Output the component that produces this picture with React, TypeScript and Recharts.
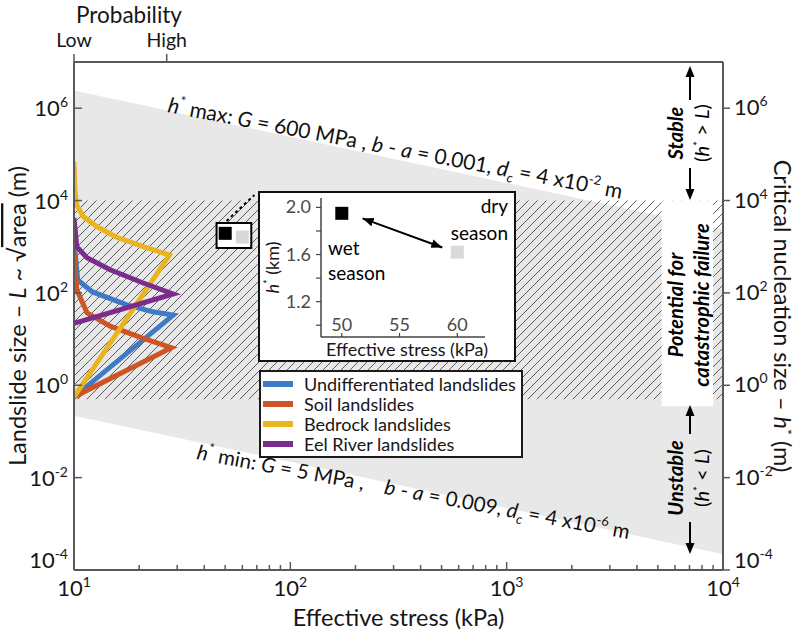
import React from 'react';
import {
  ComposedChart,
  Line,
  Area,
  Scatter,
  XAxis,
  YAxis,
  ReferenceArea,
  ReferenceLine,
  Legend,
} from 'recharts';

const FONT = "Lato, 'Open Sans', 'DejaVu Sans', sans-serif";
const AXIS_COLOR = '#595959';
const BAND_COLOR = '#e8e8e8';
const TEXT_COLOR = '#161616';

// ---------- axes ----------
const stressTicks = [
  10, 20, 30, 40, 50, 60, 70, 80, 90,
  100, 200, 300, 400, 500, 600, 700, 800, 900,
  1000, 2000, 3000, 4000, 5000, 6000, 7000, 8000, 9000, 10000,
];
const stressMajor = [10, 100, 1000, 10000];
const topDecadeTicks = [100, 1000];
const sizeTicks = [1e-4, 1e-2, 1, 1e2, 1e4, 1e6];
const probTicks = [0, 1];
const probLabels = ['Low', 'High'];

// ---------- regions ----------
const hStarBand = [
  { s: 10, range: [0.22, 2.4e6] },
  { s: 10000, range: [2.2e-4, 2400] },
];
const hatchZone = [
  { s: 10, range: [0.5, 1e4] },
  { s: 10000, range: [0.5, 1e4] },
];
const labelPanel = [
  { s: 5200, range: [0.35, 1e4] },
  { s: 9000, range: [0.35, 1e4] },
];

// ---------- probability curves (p: Low=0, High=1 ; h: landslide size m) ----------
const undifferentiated = [
  { p: 0, h: 1400 }, { p: 0.04, h: 190 }, { p: 0.2, h: 105 }, { p: 0.57, h: 55 },
  { p: 0.85, h: 39 }, { p: 1.07, h: 33 }, { p: 0, h: 0.56 },
];
const soil = [
  { p: 0, h: 800 }, { p: 0.03, h: 117 }, { p: 0.14, h: 37 }, { p: 0.39, h: 19 },
  { p: 0.74, h: 10.5 }, { p: 1.05, h: 6.5 }, { p: 0, h: 0.56 },
];
const bedrock = [
  { p: 0, h: 69000 }, { p: 0.01, h: 17000 }, { p: 0.03, h: 7900 }, { p: 0.1, h: 4500 },
  { p: 0.25, h: 2700 }, { p: 0.46, h: 1600 }, { p: 0.75, h: 1000 }, { p: 1.03, h: 660 },
  { p: 0, h: 0.56 },
];
const eelRiver = [
  { p: 0, h: 4200 }, { p: 0.03, h: 1000 }, { p: 0.14, h: 575 }, { p: 0.39, h: 316 },
  { p: 0.74, h: 166 }, { p: 1.07, h: 95 }, { p: 0, h: 22 },
];
const seriesNames = [
  'Undifferentiated landslides',
  'Soil landslides',
  'Bedrock landslides',
  'Eel River landslides',
];
const seriesColors = ['#3e7bc6', '#cd5424', '#e9b41f', '#7b2c8c'];
const seriesData = [undifferentiated, soil, bedrock, eelRiver];

// ---------- seasonal h* (main chart box + inset) ----------
const seasonBox = { s1: 45.6, s2: 66, h1: 940, h2: 3270 };
const seasonPoints = [
  { s: 50, h: 1950, c: '#000000' },
  { s: 60, h: 1620, c: '#d9d9d9' },
];
const calloutLine = [
  { x: 50.7, y: 3610 },
  { x: 68.2, y: 13200 },
];
const insetPoints = [
  { s: 50, h: 1.95, c: '#000000' },
  { s: 60, h: 1.62, c: '#d9d9d9' },
];
const insetArrow = [
  { s: 51.8, h: 1.907 },
  { s: 58.7, h: 1.66 },
];
const insetStressTicks = [50, 55, 60];
const insetSizeTicks = [1.0, 1.2, 1.4, 1.6, 1.8, 2.0];
const insetSizeLabelled = [1.2, 1.6, 2.0];

const expOf = (v: number) => String(Math.round(Math.log10(v)));
const isLowestSize = (v: number) => v <= sizeTicks[0] * 1.0001;

// ---------- tick renderers ----------
const BottomTick = (props: any) => {
  const { x, y, payload } = props;
  const v = payload.value;
  const major = stressMajor.includes(v);
  return (
    <g>
      <line x1={x} x2={x} y1={y} y2={y - (major ? 8 : 5)} stroke={AXIS_COLOR} strokeWidth={1.5} />
      {major && (
        <text x={x} y={y + 26} textAnchor="middle" fontFamily={FONT} fontSize={22} fill={TEXT_COLOR}>
          10<tspan dy={-9} fontSize={14}>{expOf(v)}</tspan>
        </text>
      )}
    </g>
  );
};

const LeftTick = (props: any) => {
  const { x, y, payload } = props;
  const dy = isLowestSize(payload.value) ? -2 : 8;
  return (
    <g>
      <line x1={x} x2={x + 8} y1={y} y2={y} stroke={AXIS_COLOR} strokeWidth={1.5} />
      <text x={x - 6} y={y + dy} textAnchor="end" fontFamily={FONT} fontSize={22} fill={TEXT_COLOR}>
        10<tspan dy={-9} fontSize={14}>{expOf(payload.value)}</tspan>
      </text>
    </g>
  );
};

const RightTick = (props: any) => {
  const { x, y, payload } = props;
  const dy = isLowestSize(payload.value) ? -2 : 7;
  return (
    <g>
      <line x1={x} x2={x + 7} y1={y} y2={y} stroke={AXIS_COLOR} strokeWidth={1.5} />
      <text x={x + 11} y={y + dy} textAnchor="start" fontFamily={FONT} fontSize={22} fill={TEXT_COLOR}>
        10<tspan dy={-9} fontSize={14}>{expOf(payload.value)}</tspan>
      </text>
    </g>
  );
};

const ProbTick = (props: any) => {
  const { x, y, payload } = props;
  const label = probLabels[probTicks.indexOf(payload.value)];
  return (
    <g>
      <line x1={x} x2={x} y1={y} y2={y - 8} stroke={AXIS_COLOR} strokeWidth={1.5} />
      <text x={x} y={y - 15.5} textAnchor="middle" fontFamily={FONT} fontSize={19.5} fill={TEXT_COLOR}>
        {label}
      </text>
    </g>
  );
};

const TopDecadeTick = (props: any) => {
  const { x, y } = props;
  return <line x1={x} x2={x} y1={y} y2={y + 8} stroke={AXIS_COLOR} strokeWidth={1.5} />;
};

// ---------- axis titles ----------
const BottomTitle = (props: any) => {
  const vb = props.viewBox;
  return (
    <text x={vb.x + vb.width / 2} y={vb.y + 56} textAnchor="middle" fontFamily={FONT} fontSize={23.5} fill={TEXT_COLOR}>
      Effective stress (kPa)
    </text>
  );
};

const LeftTitle = (props: any) => {
  const vb = props.viewBox;
  const cx = vb.x + 26;
  const cy = vb.y + vb.height / 2;
  return (
    <text x={cx} y={cy} transform={`rotate(-90 ${cx} ${cy})`} textAnchor="middle" fontFamily={FONT} fontSize={23.5} fill={TEXT_COLOR}>
      {'Landslide size – '}
      <tspan fontStyle="italic">L</tspan>
      {' ~ √'}
      <tspan style={{ textDecoration: 'overline' }}>area</tspan>
      {' (m)'}
    </text>
  );
};

const RightTitle = (props: any) => {
  const vb = props.viewBox;
  const cx = vb.x + 51;
  const cy = vb.y + vb.height / 2;
  return (
    <text x={cx} y={cy} transform={`rotate(90 ${cx} ${cy})`} textAnchor="middle" fontFamily={FONT} fontSize={23.5} fill={TEXT_COLOR}>
      {'Critical nucleation size – '}
      <tspan fontStyle="italic">h</tspan>
      <tspan dy={-8} fontSize={14}>*</tspan>
      <tspan dy={8}>{' (m)'}</tspan>
    </text>
  );
};

// inset ticks
const InsetXTick = (props: any) => {
  const { x, y, payload } = props;
  return (
    <g>
      <line x1={x} x2={x} y1={y} y2={y - 4} stroke="#444" strokeWidth={1.2} />
      <text x={x} y={y - 6} textAnchor="middle" fontFamily={FONT} fontSize={18} fill="#4a4a4a">
        {payload.value}
      </text>
    </g>
  );
};
const InsetYTick = (props: any) => {
  const { x, y, payload } = props;
  const v = payload.value;
  const labelled = insetSizeLabelled.some((l) => Math.abs(l - v) < 1e-6);
  return (
    <g>
      <line x1={x} x2={x - 5} y1={y} y2={y} stroke="#444" strokeWidth={1.2} />
      {labelled && (
        <text x={x - 10} y={y + 6} textAnchor="end" fontFamily={FONT} fontSize={18} fill="#4a4a4a">
          {v.toFixed(1)}
        </text>
      )}
    </g>
  );
};
const InsetXTitle = (props: any) => {
  const vb = props.viewBox;
  return (
    <text x={vb.x + vb.width / 2 + 4} y={vb.y + 19} textAnchor="middle" fontFamily={FONT} fontSize={18} fill={TEXT_COLOR}>
      Effective stress (kPa)
    </text>
  );
};
const InsetYTitle = (props: any) => {
  const vb = props.viewBox;
  const cx = vb.x + 19;
  const cy = vb.y + vb.height / 2;
  return (
    <text x={cx} y={cy} transform={`rotate(-90 ${cx} ${cy})`} textAnchor="middle" fontFamily={FONT} fontSize={18} fill={TEXT_COLOR}>
      <tspan fontStyle="italic">h</tspan>
      <tspan dy={-7} fontSize={11}>*</tspan>
      <tspan dy={7}>{' (km)'}</tspan>
    </text>
  );
};

const SquareShape = (props: any) => {
  const { cx, cy, payload } = props;
  return <rect x={cx - 6.5} y={cy - 6.5} width={13} height={13} fill={payload.c} />;
};

const LegendBox = (props: any) => {
  const payload = (props.payload || []).filter((p: any) => seriesNames.includes(p.value));
  payload.sort((a: any, b: any) => seriesNames.indexOf(a.value) - seriesNames.indexOf(b.value));
  return (
    <div
      style={{
        border: '2px solid #1a1a1a',
        background: '#fff',
        padding: '2px 5px 2px 2px',
        boxSizing: 'border-box',
        fontFamily: FONT,
        display: 'inline-block',
      }}
    >
      {payload.map((item: any) => (
        <div key={item.value} style={{ display: 'flex', alignItems: 'center', height: 20 }}>
          <span style={{ display: 'inline-block', width: 30, height: 6, background: item.color, marginRight: 11 }} />
          <span style={{ fontSize: 18, lineHeight: '20px', color: TEXT_COLOR, whiteSpace: 'nowrap' }}>{item.value}</span>
        </div>
      ))}
    </div>
  );
};

const Arrow = ({ x, from, to }: { x: number; from: number; to: number }) => {
  const dir = to > from ? 1 : -1;
  return (
    <g>
      <line x1={x} x2={x} y1={from} y2={to - dir * 8} stroke="#000" strokeWidth={2} />
      <polygon points={`${x - 4.5},${to - dir * 11} ${x + 4.5},${to - dir * 11} ${x},${to}`} fill="#000" />
    </g>
  );
};

const RotText = ({ x, y, children, bold }: any) => (
  <text
    x={x}
    y={y}
    transform={`rotate(-90 ${x} ${y})`}
    textAnchor="middle"
    fontFamily={FONT}
    fontSize={20}
    fontWeight={bold ? 'bold' : 'normal'}
    fontStyle={bold ? 'italic' : 'normal'}
    fill="#000"
    style={{ whiteSpace: 'pre' }}
  >
    {children}
  </text>
);

export default function App() {
  return (
    <div style={{ position: 'absolute', left: 0, top: 0, width: 796, height: 633, background: '#fff' }}>
      <div style={{ position: 'absolute', left: 0, top: 0 }}>
        <ComposedChart width={796} height={633} margin={{ top: 0, right: 0, bottom: 0, left: 0 }}>
          <defs>
            <pattern id="hatch" patternUnits="userSpaceOnUse" width="9" height="9">
              <path d="M-1,1 L1,-1 M0,9 L9,0 M8,10 L10,8" stroke="#3a3a3a" strokeWidth="0.8" />
            </pattern>
          </defs>
          <XAxis
            xAxisId="main"
            dataKey="s"
            type="number"
            scale="log"
            domain={[10, 10000]}
            allowDataOverflow
            ticks={stressTicks}
            interval={0}
            height={63}
            tickSize={0}
            tickMargin={0}
            tickLine={false}
            tick={BottomTick}
            axisLine={{ stroke: AXIS_COLOR, strokeWidth: 2 }}
            label={<BottomTitle />}
          />
          <XAxis
            xAxisId="prob"
            dataKey="p"
            type="number"
            domain={[0, 7]}
            allowDataOverflow
            orientation="top"
            ticks={probTicks}
            interval={0}
            height={62}
            tickSize={0}
            tickMargin={0}
            tickLine={false}
            tick={ProbTick}
            axisLine={{ stroke: AXIS_COLOR, strokeWidth: 2 }}
          />
          <XAxis
            xAxisId="topDecades"
            type="number"
            scale="log"
            domain={[10, 10000]}
            allowDataOverflow
            orientation="top"
            mirror
            ticks={topDecadeTicks}
            interval={0}
            height={0}
            tickSize={0}
            tickMargin={0}
            tickLine={false}
            tick={TopDecadeTick}
            axisLine={false}
          />
          <YAxis
            yAxisId="main"
            type="number"
            scale="log"
            domain={[1e-4, 1e7]}
            allowDataOverflow
            ticks={sizeTicks}
            interval={0}
            width={74}
            tickSize={0}
            tickMargin={0}
            tickLine={false}
            tick={LeftTick}
            axisLine={{ stroke: AXIS_COLOR, strokeWidth: 2 }}
            label={<LeftTitle />}
          />
          <YAxis
            yAxisId="right"
            orientation="right"
            type="number"
            scale="log"
            domain={[1e-4, 1e7]}
            allowDataOverflow
            ticks={sizeTicks}
            interval={0}
            width={73}
            tickSize={0}
            tickMargin={0}
            tickLine={false}
            tick={RightTick}
            axisLine={{ stroke: AXIS_COLOR, strokeWidth: 2 }}
            label={<RightTitle />}
          />

          <Area
            data={hStarBand}
            dataKey="range"
            xAxisId="main"
            yAxisId="main"
            type="linear"
            stroke="none"
            fill={BAND_COLOR}
            fillOpacity={1}
            legendType="none"
            isAnimationActive={false}
            zIndex={100}
          />
          <Area
            data={hatchZone}
            dataKey="range"
            xAxisId="main"
            yAxisId="main"
            type="linear"
            stroke="none"
            fill="url(#hatch)"
            fillOpacity={1}
            legendType="none"
            isAnimationActive={false}
            zIndex={101}
          />
          <Area
            data={labelPanel}
            dataKey="range"
            xAxisId="main"
            yAxisId="main"
            type="linear"
            stroke="none"
            fill="#ffffff"
            fillOpacity={1}
            legendType="none"
            isAnimationActive={false}
            zIndex={102}
          />
          <ReferenceArea
            xAxisId="main"
            yAxisId="main"
            x1={seasonBox.s1}
            x2={seasonBox.s2}
            y1={seasonBox.h1}
            y2={seasonBox.h2}
            fill="#ffffff"
            fillOpacity={1}
            stroke="#000"
            strokeWidth={2}
            zIndex={103}
          />
          <ReferenceLine
            xAxisId="main"
            yAxisId="main"
            segment={calloutLine}
            stroke="#000"
            strokeWidth={2}
            strokeDasharray="3 3"
            zIndex={103}
          />
          {seriesData.map((d, i) => (
            <Line
              key={seriesNames[i]}
              data={d}
              dataKey="h"
              name={seriesNames[i]}
              xAxisId="prob"
              yAxisId="main"
              type="linear"
              stroke={seriesColors[i]}
              strokeWidth={5}
              dot={false}
              activeDot={false}
              isAnimationActive={false}
              zIndex={400}
            />
          ))}
          <Scatter
            data={seasonPoints}
            dataKey="h"
            xAxisId="main"
            yAxisId="main"
            shape={SquareShape}
            legendType="none"
            isAnimationActive={false}
            zIndex={600}
          />
          <Legend
            layout="vertical"
            align="center"
            verticalAlign="middle"
            content={<LegendBox />}
            wrapperStyle={{ left: 259, top: 370, width: 'auto' }}
          />
        </ComposedChart>
      </div>

      {/* inset */}
      <div
        style={{
          position: 'absolute',
          left: 258,
          top: 191,
          width: 258,
          height: 171,
          border: '2px solid #111',
          boxSizing: 'border-box',
          background: '#fff',
        }}
      >
        <ComposedChart width={254} height={167} margin={{ top: 5, right: 29, bottom: 0, left: 0 }}>
          <defs>
            <marker
              id="insetArrow"
              viewBox="0 0 10 8"
              refX="10"
              refY="4"
              markerWidth="11"
              markerHeight="9"
              markerUnits="userSpaceOnUse"
              orient="auto-start-reverse"
            >
              <path d="M0,0 L10,4 L0,8 z" fill="#000" />
            </marker>
          </defs>
          <XAxis
            dataKey="s"
            type="number"
            domain={[48.2, 62.4]}
            allowDataOverflow
            ticks={insetStressTicks}
            interval={0}
            height={23}
            tickSize={0}
            tickMargin={0}
            tickLine={false}
            tick={InsetXTick}
            axisLine={{ stroke: '#444', strokeWidth: 1.5 }}
            label={<InsetXTitle />}
          />
          <YAxis
            type="number"
            domain={[0.9, 2.08]}
            allowDataOverflow
            ticks={insetSizeTicks}
            interval={0}
            width={61}
            tickSize={0}
            tickMargin={0}
            tickLine={false}
            tick={InsetYTick}
            axisLine={{ stroke: '#444', strokeWidth: 1.5 }}
            label={<InsetYTitle />}
          />
          <Line
            data={insetArrow}
            dataKey="h"
            type="linear"
            stroke="#000"
            strokeWidth={2}
            dot={false}
            activeDot={false}
            markerStart="url(#insetArrow)"
            markerEnd="url(#insetArrow)"
            isAnimationActive={false}
          />
          <Scatter data={insetPoints} dataKey="h" shape={SquareShape} isAnimationActive={false} />
        </ComposedChart>
      </div>

      {/* annotations */}
      <svg
        width={796}
        height={633}
        style={{ position: 'absolute', left: 0, top: 0, pointerEvents: 'none' }}
      >
        <text x={129} y={22.5} textAnchor="middle" fontFamily={FONT} fontSize={22.5} fill={TEXT_COLOR}>
          Probability
        </text>

        <text
          x={167}
          y={112}
          transform="rotate(10.8 167 112)"
          fontFamily={FONT}
          fontSize={21}
          fill="#111"
          style={{ whiteSpace: 'pre' }}
        >
          <tspan fontStyle="italic">h</tspan>
          <tspan dy={-9} fontSize={13}>*</tspan>
          <tspan dy={9}>{' max: '}</tspan>
          <tspan fontStyle="italic">G</tspan>
          <tspan>{' = 600 MPa , '}</tspan>
          <tspan fontStyle="italic">b</tspan>
          <tspan>{' - '}</tspan>
          <tspan fontStyle="italic">a</tspan>
          <tspan>{' = 0.001, '}</tspan>
          <tspan fontStyle="italic">d</tspan>
          <tspan dy={5} fontSize={13} fontStyle="italic">c</tspan>
          <tspan dy={-5}>{' = 4 x10'}</tspan>
          <tspan dy={-9} fontSize={13}>-2</tspan>
          <tspan dy={9}>{' m'}</tspan>
        </text>

        <text
          x={196}
          y={459}
          transform="rotate(10.5 196 459)"
          fontFamily={FONT}
          fontSize={20.5}
          fill="#111"
          style={{ whiteSpace: 'pre' }}
        >
          <tspan fontStyle="italic">h</tspan>
          <tspan dy={-9} fontSize={13}>*</tspan>
          <tspan dy={9}>{' min: '}</tspan>
          <tspan fontStyle="italic">G</tspan>
          <tspan>{' = 5 MPa ,    '}</tspan>
          <tspan fontStyle="italic">b</tspan>
          <tspan>{' - '}</tspan>
          <tspan fontStyle="italic">a</tspan>
          <tspan>{' = 0.009, '}</tspan>
          <tspan fontStyle="italic">d</tspan>
          <tspan dy={5} fontSize={13} fontStyle="italic">c</tspan>
          <tspan dy={-5}>{' = 4 x10'}</tspan>
          <tspan dy={-9} fontSize={13}>-6</tspan>
          <tspan dy={9}>{' m'}</tspan>
        </text>

        {/* right side regime labels */}
        <Arrow x={690} from={100} to={66} />
        <Arrow x={690} from={168} to={200} />
        <RotText x={683} y={133} bold>Stable</RotText>
        <RotText x={709} y={133}>
          {'('}
          <tspan fontStyle="italic">h</tspan>
          <tspan dy={-7} fontSize={12}>*</tspan>
          <tspan dy={7}>{' > '}</tspan>
          <tspan fontStyle="italic">L</tspan>
          {')'}
        </RotText>

        <RotText x={683} y={305} bold>Potential for</RotText>
        <RotText x={709} y={305} bold>catastrophic failure</RotText>

        <Arrow x={690} from={434} to={405} />
        <Arrow x={690} from={522} to={554} />
        <RotText x={683} y={478} bold>Unstable</RotText>
        <RotText x={709} y={478}>
          {'('}
          <tspan fontStyle="italic">h</tspan>
          <tspan dy={-7} fontSize={12}>*</tspan>
          <tspan dy={7}>{' < '}</tspan>
          <tspan fontStyle="italic">L</tspan>
          {')'}
        </RotText>

        {/* inset season labels */}
        <text x={328} y={255} fontFamily={FONT} fontSize={19} fill="#000">wet</text>
        <text x={328} y={280} fontFamily={FONT} fontSize={19} fill="#000">season</text>
        <text x={508} y={213} textAnchor="end" fontFamily={FONT} fontSize={19} fill="#000">dry</text>
        <text x={508} y={240} textAnchor="end" fontFamily={FONT} fontSize={19} fill="#000">season</text>
      </svg>
    </div>
  );
}
